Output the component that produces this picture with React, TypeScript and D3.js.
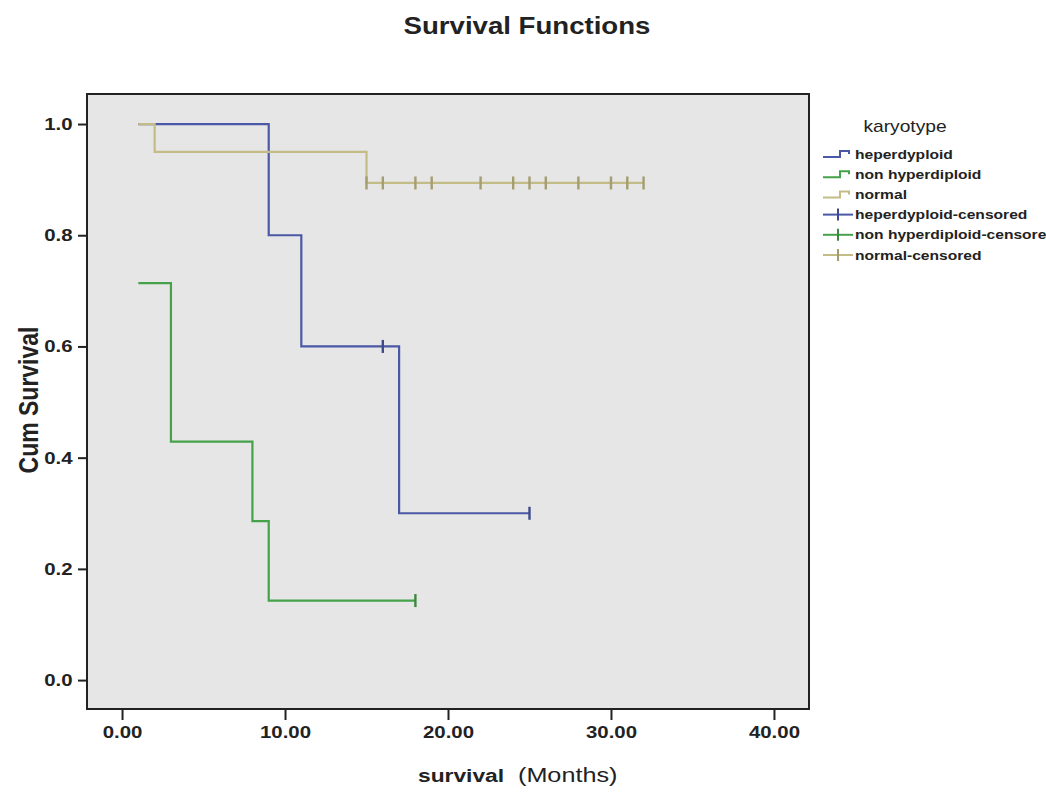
import { useEffect, useRef } from "react"
import * as d3 from "d3"

// Kaplan-Meier steps (time in months, cumulative survival)
const hyperTimes = [1, 9, 11, 17, 25]
const hyperSurv = [1.0, 0.8, 0.6, 0.3, 0.3]
const hyperCensored = [16, 25]

const nonHyperTimes = [1, 3, 8, 9, 18]
const nonHyperSurv = [0.714, 0.429, 0.286, 0.143, 0.143]
const nonHyperCensored = [18]

const normalTimes = [1, 2, 15, 32]
const normalSurv = [1.0, 0.95, 0.894, 0.894]
const normalCensored = [15, 16, 18, 19, 22, 24, 25, 26, 28, 30, 31, 32]

const xTicks = [0, 10, 20, 30, 40]
const yTicks = [0, 0.2, 0.4, 0.6, 0.8, 1.0]

// last label is cut at the picture's edge in the original
const legendLabels = [
    "heperdyploid",
    "non hyperdiploid",
    "normal",
    "heperdyploid-censored",
    "non hyperdiploid-censore",
    "normal-censored",
]

const colors = ["#4a58a6", "#45a24a", "#c4bc86"]

// the original picture is stretched sideways, so text is too
const STRETCH = 1.2

export default function App() {
    const svgRef = useRef(null)

    useEffect(() => {
        const width = 1046, height = 797
        const plot = { left: 87, top: 94, right: 809, bottom: 709 }

        const svg = d3.select(svgRef.current)
        svg.selectAll("*").remove()
        svg.attr("width", width).attr("height", height)

        svg.append("rect")
            .attr("width", width).attr("height", height)
            .attr("fill", "#ffffff")

        const x = d3.scaleLinear().domain([-2.15, 42.15]).range([plot.left, plot.right])
        const y = d3.scaleLinear().domain([-0.052, 1.054]).range([plot.bottom, plot.top])

        // plot background
        svg.append("rect")
            .attr("x", plot.left).attr("y", plot.top)
            .attr("width", plot.right - plot.left)
            .attr("height", plot.bottom - plot.top)
            .attr("fill", "#e6e6e6")

        const series = [
            { times: hyperTimes, surv: hyperSurv, cens: hyperCensored },
            { times: nonHyperTimes, surv: nonHyperSurv, cens: nonHyperCensored },
            { times: normalTimes, surv: normalSurv, cens: normalCensored },
        ]

        const line = d3.line()
            .x(d => x(d[0]))
            .y(d => y(d[1]))
            .curve(d3.curveStepAfter)

        series.forEach((s, i) => {
            const pts = s.times.map((t, j) => [t, s.surv[j]])
            svg.append("path")
                .attr("d", line(pts))
                .attr("fill", "none")
                .attr("stroke", colors[i])
                .attr("stroke-width", 2.2)

            const survAt = t => {
                let v = s.surv[0]
                s.times.forEach((tt, j) => { if (tt <= t) v = s.surv[j] })
                return v
            }
            svg.append("g").selectAll("line")
                .data(s.cens)
                .join("line")
                    .attr("x1", d => x(d)).attr("x2", d => x(d))
                    .attr("y1", d => y(survAt(d)) - 6.5)
                    .attr("y2", d => y(survAt(d)) + 6.5)
                    .attr("stroke", d3.color(colors[i]).darker(0.5))
                    .attr("stroke-width", 2.4)
        })

        // frame
        svg.append("rect")
            .attr("x", plot.left).attr("y", plot.top)
            .attr("width", plot.right - plot.left)
            .attr("height", plot.bottom - plot.top)
            .attr("fill", "none")
            .attr("stroke", "#222")
            .attr("stroke-width", 2)

        const font = "Arial, 'Liberation Sans', sans-serif"

        // axes
        const xAxis = svg.append("g")
            .attr("transform", `translate(0, ${plot.bottom})`)
            .call(d3.axisBottom(x).tickValues(xTicks).tickFormat(d3.format(".2f")).tickSize(11).tickPadding(6))
        const yAxis = svg.append("g")
            .attr("transform", `translate(${plot.left}, 0)`)
            .call(d3.axisLeft(y).tickValues(yTicks).tickFormat(d3.format(".1f")).tickSize(9).tickPadding(3))

        ;[xAxis, yAxis].forEach(a => {
            a.select(".domain").remove()
            a.selectAll("line").attr("stroke", "#222").attr("stroke-width", 2)
            a.selectAll("text")
                .attr("fill", "#222")
                .attr("transform", `scale(${STRETCH},1)`)
                .style("font-family", font)
                .style("font-weight", "bold")
                .style("font-size", "17px")
        })

        const label = (tx, ty, txt, size, bold, anchor = "middle", rot = 0) => {
            const g = svg.append("g")
                .attr("transform", `translate(${tx},${ty}) scale(${STRETCH},1) rotate(${rot})`)
            return g.append("text")
                .attr("text-anchor", anchor)
                .style("font-family", font)
                .style("font-weight", bold ? "bold" : "normal")
                .style("font-size", `${size}px`)
                .attr("fill", "#222")
                .text(txt)
        }

        // title
        label(527, 34, "Survival Functions", 23, true)

        // y-axis label
        label(38, 400, "Cum Survival", 23, true, "middle", -90)

        // x-axis label
        label(418, 782, "survival", 19, true, "start")
        label(518, 782, "(Months)", 21, false, "start")

        // legend
        label(905, 132, "karyotype", 16, false)

        const lg = svg.append("g")
        legendLabels.forEach((lab, i) => {
            const yy = 154 + i * 20.2
            const c = colors[i % 3]
            if (i < 3) {
                lg.append("path")
                    .attr("d", `M823,${yy + 3} H840 V${yy - 3} H849 V${yy}`)
                    .attr("fill", "none")
                    .attr("stroke", c)
                    .attr("stroke-width", 2)
            } else {
                lg.append("line")
                    .attr("x1", 823).attr("x2", 853)
                    .attr("y1", yy).attr("y2", yy)
                    .attr("stroke", c).attr("stroke-width", 2)
                lg.append("line")
                    .attr("x1", 838).attr("x2", 838)
                    .attr("y1", yy - 6).attr("y2", yy + 6)
                    .attr("stroke", d3.color(c).darker(0.5)).attr("stroke-width", 2)
            }
            label(855, yy + 4.5, lab, 13, true, "start")
        })
    }, [])

    return (
        <svg ref={svgRef} style={{ position: "absolute", left: 0, top: 0 }}></svg>
    )
}
